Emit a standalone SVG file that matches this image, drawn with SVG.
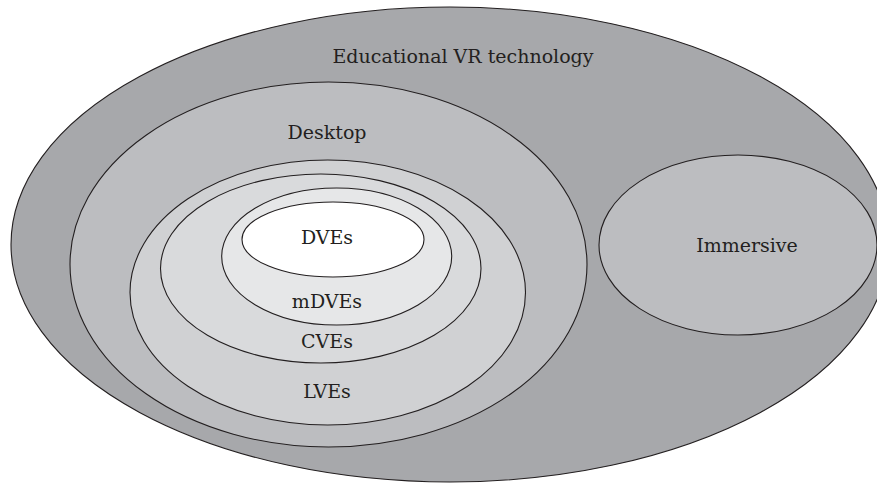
<svg xmlns="http://www.w3.org/2000/svg" width="877" height="483" viewBox="0 0 877 483">
<style>
ellipse{stroke:#231f20;stroke-width:1.1}
text{font-family:"DejaVu Serif","Liberation Serif",serif;font-size:19px;fill:#231f20;text-anchor:middle}
</style>
<rect width="877" height="483" fill="#ffffff"/>
<g id="edu-vr">
<ellipse cx="450" cy="244.5" rx="439" ry="237.5" fill="#a7a8ab"/>
<text x="463" y="63">Educational VR technology</text>
</g>
<g id="desktop">
<ellipse cx="328.5" cy="264.5" rx="258.5" ry="182.5" fill="#bcbdc0"/>
<text x="327" y="139">Desktop</text>
</g>
<g id="lves">
<ellipse cx="327.75" cy="292.5" rx="197.75" ry="132.5" fill="#d0d1d3"/>
<text x="327" y="398">LVEs</text>
</g>
<g id="cves">
<ellipse cx="320.75" cy="268.5" rx="160.25" ry="94.5" fill="#d9dadc"/>
<text x="327" y="348">CVEs</text>
</g>
<g id="mdves">
<ellipse cx="336.7" cy="256.5" rx="115" ry="68.5" fill="#e6e7e8"/>
<text x="327" y="308">mDVEs</text>
</g>
<g id="dves">
<ellipse cx="333" cy="239.5" rx="91" ry="37.5" fill="#ffffff"/>
<text x="327" y="244">DVEs</text>
</g>
<g id="immersive">
<ellipse cx="738" cy="245" rx="139" ry="90" fill="#bcbdc0"/>
<text x="747" y="252">Immersive</text>
</g>
<g id="connectors"/>
</svg>
